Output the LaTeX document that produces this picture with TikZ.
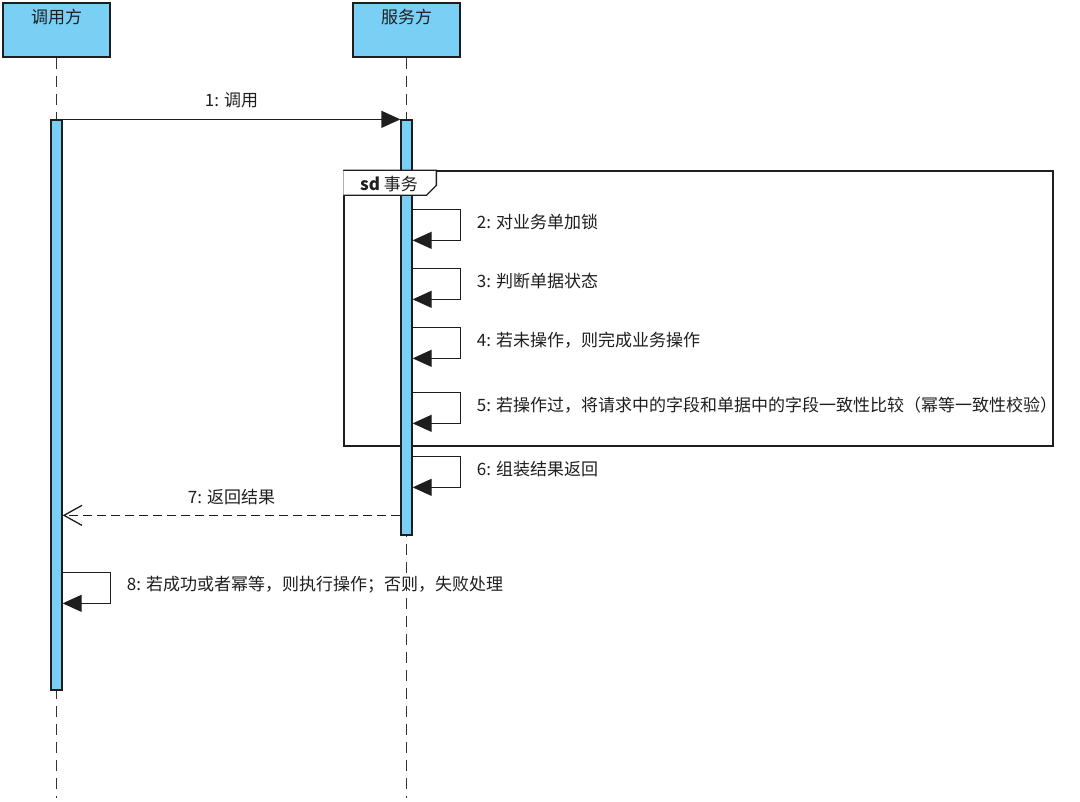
\documentclass[tikz,border=0pt]{standalone}
\usepackage{fontspec}
\setmainfont{Noto Sans CJK SC}
\usetikzlibrary{arrows.meta,positioning,calc}
\definecolor{lifeblue}{HTML}{7ACFF5}
\definecolor{ink}{HTML}{1E1E1E}
\definecolor{lineink}{HTML}{333333}

\tikzset{
  actor/.style={draw=ink,fill=lifeblue,line width=1.3pt,minimum width=107pt,minimum height=54pt,inner sep=0pt},
  actbar/.style={draw=ink,fill=lifeblue,line width=1.3pt,minimum width=11pt,inner sep=0pt},
  lifeline/.style={draw=lineink,line width=1.8pt,dash pattern=on 11pt off 7pt},
  call/.style={draw=ink,line width=1.3pt,-{Triangle[length=19pt,width=17pt]}},
  reply/.style={draw=ink,line width=1.3pt,dash pattern=on 9pt off 5pt,-{Straight Barb[length=18pt,width=20pt,line width=1.3pt]}},
  msglabel/.style={anchor=west,inner sep=0pt,text=ink},
  every node/.style={font=\fontsize{17}{20}\selectfont}
}

\begin{document}
\begin{tikzpicture}[x=1pt,y=-1pt]
\useasboundingbox (0,0) rectangle (1080,802);

% lifelines and headers
\node[actor,label={[anchor=north,yshift=-3pt,text=ink]north:调用方}] (caller) at (56.5,30) {};
\node[actor,label={[anchor=north,yshift=-3pt,text=ink]north:服务方}] (server) at (406.5,30) {};
\draw[lifeline] (caller.south) -- ++(0,740) coordinate (callerend);
\draw[lifeline] (server.south) -- ++(0,740) coordinate (serverend);

% transaction frame
\node[draw=ink,line width=1.3pt,minimum width=709pt,minimum height=275pt,inner sep=0pt] (txframe) at (698.5,308.5) {};

% activation bars
\node[actbar,minimum height=570pt] (callbar) at (56.5,405) {};
\node[actbar,minimum height=415pt] (servbar) at (406.5,327.5) {};

% frame tag on top of the bar
\draw[draw=ink,fill=white,line width=1.3pt] (txframe.north west) -- ++(93,0) -- ++(0,15) -- ++(-10,10) -- ++(-83,0);
\node[inner sep=0pt,text=ink] (txtag) at (389,184) {\textbf{sd} 事务};

% 1: call
\draw[call] (callbar.north east) -- (servbar.north west)
  node[midway,above=11pt,inner sep=0pt,text=ink] (m1) {1: 调用};

% self messages on the server
\foreach \n/\ytop/\txt in {2/90/对业务单加锁,3/149/判断单据状态,4/208/若未操作，则完成业务操作,5/273/若操作过，将请求中的字段和单据中的字段一致性比较（幂等一致性校验）,6/337/组装结果返回}{
  \coordinate (s\n) at ($(servbar.north east)+(0,\ytop)$);
  \coordinate (e\n) at ($(s\n)+(0,31)$);
  \draw[call] (s\n) -- ++(48,0) |- (e\n);
  \node[msglabel] (m\n) at ($(s\n)+(64,13)$) {\n: \txt};
}

% 7: reply
\coordinate (r7) at ($(servbar.north west)+(0,396)$);
\draw[reply] (r7) -- (callbar.east |- r7)
  node[midway,above=10pt,inner sep=0pt,text=ink] (m7) {7: 返回结果};

% 8: self message on the caller
\coordinate (s8) at ($(callbar.north east)+(0,453)$);
\coordinate (e8) at ($(s8)+(0,31)$);
\draw[call] (s8) -- ++(48,0) |- (e8);
\node[msglabel] (m8) at ($(s8)+(64,12)$) {8: 若成功或者幂等，则执行操作；否则，失败处理};
\end{tikzpicture}
\end{document}
